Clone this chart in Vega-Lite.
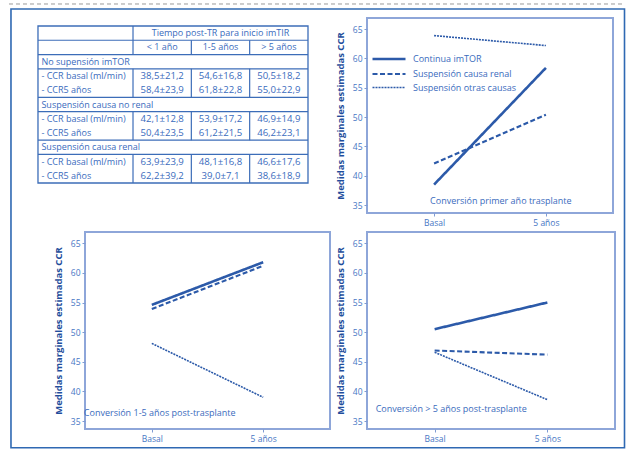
{
  "$schema": "https://vega.github.io/schema/vega-lite/v6.json",
  "background": "white",
  "padding": {"left": 8, "top": 3, "right": 5, "bottom": 3},
  "autosize": {"type": "pad"},
  "config": {
    "font": "Open Sans",
    "view": {"stroke": "#8ea6d9", "strokeWidth": 2},
    "axis": {"domain": false, "grid": false, "labelColor": "#4676c4", "labelFontSize": 8.5, "tickColor": "#7f9bd3", "tickSize": 3, "labelPadding": 2, "titleColor": "#1f4e9c", "titleFontSize": 9.5, "titleFontWeight": "bold", "titlePadding": 7},
    "axisX": {"labelPadding": 2, "labelAngle": 0}
  },
  "datasets": {
    "lineas": [
      {"panel": "p1", "serie": "Continua imTOR", "tiempo": "Basal", "ccr": 38.5},
      {"panel": "p1", "serie": "Continua imTOR", "tiempo": "5 años", "ccr": 58.4},
      {"panel": "p1", "serie": "Suspensión causa renal", "tiempo": "Basal", "ccr": 42.1},
      {"panel": "p1", "serie": "Suspensión causa renal", "tiempo": "5 años", "ccr": 50.4},
      {"panel": "p1", "serie": "Suspensión otras causas", "tiempo": "Basal", "ccr": 63.9},
      {"panel": "p1", "serie": "Suspensión otras causas", "tiempo": "5 años", "ccr": 62.2},
      {"panel": "p2", "serie": "Continua imTOR", "tiempo": "Basal", "ccr": 54.6},
      {"panel": "p2", "serie": "Continua imTOR", "tiempo": "5 años", "ccr": 61.8},
      {"panel": "p2", "serie": "Suspensión causa renal", "tiempo": "Basal", "ccr": 53.9},
      {"panel": "p2", "serie": "Suspensión causa renal", "tiempo": "5 años", "ccr": 61.2},
      {"panel": "p2", "serie": "Suspensión otras causas", "tiempo": "Basal", "ccr": 48.1},
      {"panel": "p2", "serie": "Suspensión otras causas", "tiempo": "5 años", "ccr": 39.0},
      {"panel": "p3", "serie": "Continua imTOR", "tiempo": "Basal", "ccr": 50.5},
      {"panel": "p3", "serie": "Continua imTOR", "tiempo": "5 años", "ccr": 55.0},
      {"panel": "p3", "serie": "Suspensión causa renal", "tiempo": "Basal", "ccr": 46.9},
      {"panel": "p3", "serie": "Suspensión causa renal", "tiempo": "5 años", "ccr": 46.2},
      {"panel": "p3", "serie": "Suspensión otras causas", "tiempo": "Basal", "ccr": 46.6},
      {"panel": "p3", "serie": "Suspensión otras causas", "tiempo": "5 años", "ccr": 38.6}
    ],
    "notas": [
      {"panel": "p1", "nota": "Conversión primer año trasplante"},
      {"panel": "p2", "nota": "Conversión 1-5 años post-trasplante"},
      {"panel": "p3", "nota": "Conversión > 5 años post-trasplante"}
    ],
    "tabla": [
      {"fila": 0, "col": 2, "texto": "Tiempo post-TR para inicio imTIR"},
      {"fila": 1, "col": 1, "texto": "< 1 año"},
      {"fila": 1, "col": 2, "texto": "1-5 años"},
      {"fila": 1, "col": 3, "texto": "> 5 años"},
      {"fila": 2, "col": 0, "texto": "No supensión imTOR"},
      {"fila": 3, "col": 0, "texto": "- CCR basal (ml/min)"},
      {"fila": 3, "col": 1, "texto": "38,5±21,2"},
      {"fila": 3, "col": 2, "texto": "54,6±16,8"},
      {"fila": 3, "col": 3, "texto": "50,5±18,2"},
      {"fila": 4, "col": 0, "texto": "- CCR5 años"},
      {"fila": 4, "col": 1, "texto": "58,4±23,9"},
      {"fila": 4, "col": 2, "texto": "61,8±22,8"},
      {"fila": 4, "col": 3, "texto": "55,0±22,9"},
      {"fila": 5, "col": 0, "texto": "Suspensión causa no renal"},
      {"fila": 6, "col": 0, "texto": "- CCR basal (ml/min)"},
      {"fila": 6, "col": 1, "texto": "42,1±12,8"},
      {"fila": 6, "col": 2, "texto": "53,9±17,2"},
      {"fila": 6, "col": 3, "texto": "46,9±14,9"},
      {"fila": 7, "col": 0, "texto": "- CCR5 años"},
      {"fila": 7, "col": 1, "texto": "50,4±23,5"},
      {"fila": 7, "col": 2, "texto": "61,2±21,5"},
      {"fila": 7, "col": 3, "texto": "46,2±23,1"},
      {"fila": 8, "col": 0, "texto": "Suspensión causa renal"},
      {"fila": 9, "col": 0, "texto": "- CCR basal (ml/min)"},
      {"fila": 9, "col": 1, "texto": "63,9±23,9"},
      {"fila": 9, "col": 2, "texto": "48,1±16,8"},
      {"fila": 9, "col": 3, "texto": "46,6±17,6"},
      {"fila": 10, "col": 0, "texto": "- CCR5 años"},
      {"fila": 10, "col": 1, "texto": "62,2±39,2"},
      {"fila": 10, "col": 2, "texto": "39,0±7,1"},
      {"fila": 10, "col": 3, "texto": "38,6±18,9"}
    ]
  },
  "columns": 2,
  "spacing": {"row": 19, "column": 37},
  "bounds": "flush",
  "align": "each",
  "resolve": {"scale": {"strokeDash": "independent", "strokeWidth": "independent"}},
  "concat": [
    {
      "width": 223,
      "height": 195,
      "view": {"stroke": null},
      "layer": [
        {"data": {"values": [{}]}, "mark": {"type": "rule", "color": "#9a9a9a", "strokeWidth": 1, "strokeDash": [4, 3], "clip": false},
         "encoding": {"x": {"datum": -1.626, "type": "quantitative", "scale": {"domain": [-0.323, 3.5], "nice": false, "zero": false}, "axis": null}, "x2": {"datum": 8.926}, "y": {"datum": -2.041, "type": "quantitative", "scale": {"domain": [-1.06, 12.6], "reverse": true, "nice": false, "zero": false}, "axis": null}}},
        {"data": {"values": [{}]}, "mark": {"type": "rect", "filled": false, "color": "#2f69b3", "strokeWidth": 1.6, "clip": false},
         "encoding": {"x": {"datum": -1.592, "type": "quantitative", "scale": {"domain": [-0.323, 3.5], "nice": false, "zero": false}, "axis": null}, "x2": {"datum": 8.926}, "y": {"datum": -1.691, "type": "quantitative", "scale": {"domain": [-1.06, 12.6], "reverse": true, "nice": false, "zero": false}, "axis": null}, "y2": {"datum": 29.04}}},
        {"data": {"values": [{}]}, "mark": {"type": "rect", "filled": false, "color": "#3c6db8", "strokeWidth": 1.3, "clip": false},
         "encoding": {"x": {"datum": -1.129, "type": "quantitative", "scale": {"domain": [-0.323, 3.5], "nice": false, "zero": false}, "axis": null}, "x2": {"datum": 3.5}, "y": {"datum": -0.5, "type": "quantitative", "scale": {"domain": [-1.06, 12.6], "reverse": true, "nice": false, "zero": false}, "axis": null}, "y2": {"datum": 10.5}}},
        {"data": {"values": [{}]}, "mark": {"type": "rule", "color": "#3c6db8", "strokeWidth": 1.2, "clip": false},
         "encoding": {"x": {"datum": -1.129, "type": "quantitative", "scale": {"domain": [-0.323, 3.5], "nice": false, "zero": false}, "axis": null}, "x2": {"datum": 3.5}, "y": {"datum": 0.5, "type": "quantitative", "scale": {"domain": [-1.06, 12.6], "reverse": true, "nice": false, "zero": false}, "axis": null}}},
        {"data": {"values": [{}]}, "mark": {"type": "rule", "color": "#3c6db8", "strokeWidth": 1.2, "clip": false},
         "encoding": {"x": {"datum": -1.129, "type": "quantitative", "scale": {"domain": [-0.323, 3.5], "nice": false, "zero": false}, "axis": null}, "x2": {"datum": 3.5}, "y": {"datum": 1.5, "type": "quantitative", "scale": {"domain": [-1.06, 12.6], "reverse": true, "nice": false, "zero": false}, "axis": null}}},
        {"data": {"values": [{}]}, "mark": {"type": "rule", "color": "#3c6db8", "strokeWidth": 1.2, "clip": false},
         "encoding": {"x": {"datum": -1.129, "type": "quantitative", "scale": {"domain": [-0.323, 3.5], "nice": false, "zero": false}, "axis": null}, "x2": {"datum": 3.5}, "y": {"datum": 2.5, "type": "quantitative", "scale": {"domain": [-1.06, 12.6], "reverse": true, "nice": false, "zero": false}, "axis": null}}},
        {"data": {"values": [{}]}, "mark": {"type": "rule", "color": "#3c6db8", "strokeWidth": 1.2, "clip": false},
         "encoding": {"x": {"datum": -1.129, "type": "quantitative", "scale": {"domain": [-0.323, 3.5], "nice": false, "zero": false}, "axis": null}, "x2": {"datum": 3.5}, "y": {"datum": 4.5, "type": "quantitative", "scale": {"domain": [-1.06, 12.6], "reverse": true, "nice": false, "zero": false}, "axis": null}}},
        {"data": {"values": [{}]}, "mark": {"type": "rule", "color": "#3c6db8", "strokeWidth": 1.2, "clip": false},
         "encoding": {"x": {"datum": -1.129, "type": "quantitative", "scale": {"domain": [-0.323, 3.5], "nice": false, "zero": false}, "axis": null}, "x2": {"datum": 3.5}, "y": {"datum": 5.5, "type": "quantitative", "scale": {"domain": [-1.06, 12.6], "reverse": true, "nice": false, "zero": false}, "axis": null}}},
        {"data": {"values": [{}]}, "mark": {"type": "rule", "color": "#3c6db8", "strokeWidth": 1.2, "clip": false},
         "encoding": {"x": {"datum": -1.129, "type": "quantitative", "scale": {"domain": [-0.323, 3.5], "nice": false, "zero": false}, "axis": null}, "x2": {"datum": 3.5}, "y": {"datum": 7.5, "type": "quantitative", "scale": {"domain": [-1.06, 12.6], "reverse": true, "nice": false, "zero": false}, "axis": null}}},
        {"data": {"values": [{}]}, "mark": {"type": "rule", "color": "#3c6db8", "strokeWidth": 1.2, "clip": false},
         "encoding": {"x": {"datum": -1.129, "type": "quantitative", "scale": {"domain": [-0.323, 3.5], "nice": false, "zero": false}, "axis": null}, "x2": {"datum": 3.5}, "y": {"datum": 8.5, "type": "quantitative", "scale": {"domain": [-1.06, 12.6], "reverse": true, "nice": false, "zero": false}, "axis": null}}},
        {"data": {"values": [{}]}, "mark": {"type": "rule", "color": "#3c6db8", "strokeWidth": 1.2, "clip": false},
         "encoding": {"x": {"datum": 0.5, "type": "quantitative", "scale": {"domain": [-0.323, 3.5], "nice": false, "zero": false}, "axis": null}, "y": {"datum": -0.5, "type": "quantitative", "scale": {"domain": [-1.06, 12.6], "reverse": true, "nice": false, "zero": false}, "axis": null}, "y2": {"datum": 1.5}}},
        {"data": {"values": [{}]}, "mark": {"type": "rule", "color": "#3c6db8", "strokeWidth": 1.2, "clip": false},
         "encoding": {"x": {"datum": 0.5, "type": "quantitative", "scale": {"domain": [-0.323, 3.5], "nice": false, "zero": false}, "axis": null}, "y": {"datum": 2.5, "type": "quantitative", "scale": {"domain": [-1.06, 12.6], "reverse": true, "nice": false, "zero": false}, "axis": null}, "y2": {"datum": 4.5}}},
        {"data": {"values": [{}]}, "mark": {"type": "rule", "color": "#3c6db8", "strokeWidth": 1.2, "clip": false},
         "encoding": {"x": {"datum": 0.5, "type": "quantitative", "scale": {"domain": [-0.323, 3.5], "nice": false, "zero": false}, "axis": null}, "y": {"datum": 5.5, "type": "quantitative", "scale": {"domain": [-1.06, 12.6], "reverse": true, "nice": false, "zero": false}, "axis": null}, "y2": {"datum": 7.5}}},
        {"data": {"values": [{}]}, "mark": {"type": "rule", "color": "#3c6db8", "strokeWidth": 1.2, "clip": false},
         "encoding": {"x": {"datum": 0.5, "type": "quantitative", "scale": {"domain": [-0.323, 3.5], "nice": false, "zero": false}, "axis": null}, "y": {"datum": 8.5, "type": "quantitative", "scale": {"domain": [-1.06, 12.6], "reverse": true, "nice": false, "zero": false}, "axis": null}, "y2": {"datum": 10.5}}},
        {"data": {"values": [{}]}, "mark": {"type": "rule", "color": "#3c6db8", "strokeWidth": 1.2, "clip": false},
         "encoding": {"x": {"datum": 1.5, "type": "quantitative", "scale": {"domain": [-0.323, 3.5], "nice": false, "zero": false}, "axis": null}, "y": {"datum": 0.5, "type": "quantitative", "scale": {"domain": [-1.06, 12.6], "reverse": true, "nice": false, "zero": false}, "axis": null}, "y2": {"datum": 1.5}}},
        {"data": {"values": [{}]}, "mark": {"type": "rule", "color": "#3c6db8", "strokeWidth": 1.2, "clip": false},
         "encoding": {"x": {"datum": 1.5, "type": "quantitative", "scale": {"domain": [-0.323, 3.5], "nice": false, "zero": false}, "axis": null}, "y": {"datum": 2.5, "type": "quantitative", "scale": {"domain": [-1.06, 12.6], "reverse": true, "nice": false, "zero": false}, "axis": null}, "y2": {"datum": 4.5}}},
        {"data": {"values": [{}]}, "mark": {"type": "rule", "color": "#3c6db8", "strokeWidth": 1.2, "clip": false},
         "encoding": {"x": {"datum": 1.5, "type": "quantitative", "scale": {"domain": [-0.323, 3.5], "nice": false, "zero": false}, "axis": null}, "y": {"datum": 5.5, "type": "quantitative", "scale": {"domain": [-1.06, 12.6], "reverse": true, "nice": false, "zero": false}, "axis": null}, "y2": {"datum": 7.5}}},
        {"data": {"values": [{}]}, "mark": {"type": "rule", "color": "#3c6db8", "strokeWidth": 1.2, "clip": false},
         "encoding": {"x": {"datum": 1.5, "type": "quantitative", "scale": {"domain": [-0.323, 3.5], "nice": false, "zero": false}, "axis": null}, "y": {"datum": 8.5, "type": "quantitative", "scale": {"domain": [-1.06, 12.6], "reverse": true, "nice": false, "zero": false}, "axis": null}, "y2": {"datum": 10.5}}},
        {"data": {"values": [{}]}, "mark": {"type": "rule", "color": "#3c6db8", "strokeWidth": 1.2, "clip": false},
         "encoding": {"x": {"datum": 2.5, "type": "quantitative", "scale": {"domain": [-0.323, 3.5], "nice": false, "zero": false}, "axis": null}, "y": {"datum": 0.5, "type": "quantitative", "scale": {"domain": [-1.06, 12.6], "reverse": true, "nice": false, "zero": false}, "axis": null}, "y2": {"datum": 1.5}}},
        {"data": {"values": [{}]}, "mark": {"type": "rule", "color": "#3c6db8", "strokeWidth": 1.2, "clip": false},
         "encoding": {"x": {"datum": 2.5, "type": "quantitative", "scale": {"domain": [-0.323, 3.5], "nice": false, "zero": false}, "axis": null}, "y": {"datum": 2.5, "type": "quantitative", "scale": {"domain": [-1.06, 12.6], "reverse": true, "nice": false, "zero": false}, "axis": null}, "y2": {"datum": 4.5}}},
        {"data": {"values": [{}]}, "mark": {"type": "rule", "color": "#3c6db8", "strokeWidth": 1.2, "clip": false},
         "encoding": {"x": {"datum": 2.5, "type": "quantitative", "scale": {"domain": [-0.323, 3.5], "nice": false, "zero": false}, "axis": null}, "y": {"datum": 5.5, "type": "quantitative", "scale": {"domain": [-1.06, 12.6], "reverse": true, "nice": false, "zero": false}, "axis": null}, "y2": {"datum": 7.5}}},
        {"data": {"values": [{}]}, "mark": {"type": "rule", "color": "#3c6db8", "strokeWidth": 1.2, "clip": false},
         "encoding": {"x": {"datum": 2.5, "type": "quantitative", "scale": {"domain": [-0.323, 3.5], "nice": false, "zero": false}, "axis": null}, "y": {"datum": 8.5, "type": "quantitative", "scale": {"domain": [-1.06, 12.6], "reverse": true, "nice": false, "zero": false}, "axis": null}, "y2": {"datum": 10.5}}},
        {"data": {"name": "tabla"}, "transform": [{"filter": "datum.col === 0"}],
         "mark": {"type": "text", "align": "left", "baseline": "middle", "fontSize": 9, "color": "#3a6bbd", "clip": false},
         "encoding": {"x": {"datum": -1.07, "type": "quantitative", "scale": {"domain": [-0.323, 3.5], "nice": false, "zero": false}, "axis": null}, "y": {"field": "fila", "type": "quantitative", "scale": {"domain": [-1.06, 12.6], "reverse": true, "nice": false, "zero": false}, "axis": null}, "text": {"field": "texto"}}},
        {"data": {"name": "tabla"}, "transform": [{"filter": "datum.col > 0 && datum.fila <= 1"}],
         "mark": {"type": "text", "align": "center", "baseline": "middle", "fontSize": 9, "color": "#3a6bbd", "clip": false},
         "encoding": {"x": {"field": "col", "type": "quantitative", "scale": {"domain": [-0.323, 3.5], "nice": false, "zero": false}, "axis": null}, "y": {"field": "fila", "type": "quantitative", "scale": {"domain": [-1.06, 12.6], "reverse": true, "nice": false, "zero": false}, "axis": null}, "text": {"field": "texto"}}},
        {"data": {"name": "tabla"}, "transform": [{"filter": "datum.col > 0 && datum.fila >= 2"}],
         "mark": {"type": "text", "align": "center", "baseline": "middle", "fontSize": 9.6, "color": "#3a6bbd", "clip": false},
         "encoding": {"x": {"field": "col", "type": "quantitative", "scale": {"domain": [-0.323, 3.5], "nice": false, "zero": false}, "axis": null}, "y": {"field": "fila", "type": "quantitative", "scale": {"domain": [-1.06, 12.6], "reverse": true, "nice": false, "zero": false}, "axis": null}, "text": {"field": "texto"}}}
      ]
    },
    {
      "width": 246,
      "height": 195,
      "layer": [
        {"data": {"name": "lineas"}, "transform": [{"filter": "datum.panel === 'p1'"}],
         "mark": {"type": "line", "color": "#2c5aa9", "clip": false},
         "encoding": {
           "x": {"field": "tiempo", "type": "ordinal", "scale": {"type": "point", "domain": ["Basal", "5 años"], "padding": 0.6}, "axis": {"title": null, "labelAngle": 0}},
           "y": {"field": "ccr", "type": "quantitative", "scale": {"domain": [33.65, 66.9], "nice": false, "zero": false}, "axis": {"title": "Medidas marginales estimadas CCR", "values": [35, 40, 45, 50, 55, 60, 65]}},
           "strokeDash": {"field": "serie", "type": "nominal", "scale": {"domain": ["Continua imTOR", "Suspensión causa renal", "Suspensión otras causas"], "range": [[1, 0], [5, 2.5], [2, 1]]},
             "legend": {"orient": "none", "legendX": 15, "legendY": 34, "title": null, "padding": 0, "symbolType": "M-3,0H3", "symbolSize": 121, "symbolFillColor": "transparent", "symbolStrokeColor": "#2c5aa9", "labelFont": "Open Sans", "labelFontSize": 9, "labelColor": "#3a6bbd", "labelOffset": 17, "rowPadding": 2}},
           "strokeWidth": {"field": "serie", "type": "ordinal", "scale": {"type": "point", "domain": ["Continua imTOR", "Suspensión causa renal", "Suspensión otras causas"], "range": [2.6, 1.6], "padding": 0},
             "legend": {"orient": "none", "legendX": 15, "legendY": 34, "title": null, "padding": 0, "symbolType": "M-3,0H3", "symbolSize": 121, "symbolFillColor": "transparent", "symbolStrokeColor": "#2c5aa9", "labelFont": "Open Sans", "labelFontSize": 9, "labelColor": "#3a6bbd", "labelOffset": 17, "rowPadding": 2}}
         }},
        {"data": {"name": "notas"}, "transform": [{"filter": "datum.panel === 'p1'"}],
         "mark": {"type": "text", "align": "left", "baseline": "middle", "dx": -4, "fontSize": 9, "color": "#3a6bbd"},
         "encoding": {
           "x": {"datum": "Basal", "type": "ordinal", "scale": {"type": "point", "domain": ["Basal", "5 años"], "padding": 0.6}, "axis": {"title": null, "labelAngle": 0}},
           "y": {"datum": 35.7, "type": "quantitative", "scale": {"domain": [33.65, 66.9], "nice": false, "zero": false}, "axis": {"title": "Medidas marginales estimadas CCR", "values": [35, 40, 45, 50, 55, 60, 65]}},
           "text": {"field": "nota"}
         }}
      ]
    },
    {
      "width": 245,
      "height": 197,
      "layer": [
        {"data": {"name": "lineas"}, "transform": [{"filter": "datum.panel === 'p2'"}],
         "mark": {"type": "line", "color": "#2c5aa9", "clip": false},
         "encoding": {
           "x": {"field": "tiempo", "type": "ordinal", "scale": {"type": "point", "domain": ["Basal", "5 años"], "padding": 0.6}, "axis": {"title": null, "labelAngle": 0}},
           "y": {"field": "ccr", "type": "quantitative", "scale": {"domain": [33.65, 66.9], "nice": false, "zero": false}, "axis": {"title": "Medidas marginales estimadas CCR", "values": [35, 40, 45, 50, 55, 60, 65]}},
           "strokeDash": {"field": "serie", "type": "nominal", "scale": {"domain": ["Continua imTOR", "Suspensión causa renal", "Suspensión otras causas"], "range": [[1, 0], [5, 2.5], [2, 1]]}, "legend": null},
           "strokeWidth": {"field": "serie", "type": "ordinal", "scale": {"type": "point", "domain": ["Continua imTOR", "Suspensión causa renal", "Suspensión otras causas"], "range": [2.6, 1.6], "padding": 0}, "legend": null}
         }},
        {"data": {"name": "notas"}, "transform": [{"filter": "datum.panel === 'p2'"}],
         "mark": {"type": "text", "align": "left", "baseline": "middle", "dx": -68, "fontSize": 9, "color": "#3a6bbd"},
         "encoding": {
           "x": {"datum": "Basal", "type": "ordinal", "scale": {"type": "point", "domain": ["Basal", "5 años"], "padding": 0.6}, "axis": {"title": null, "labelAngle": 0}},
           "y": {"datum": 36.4, "type": "quantitative", "scale": {"domain": [33.65, 66.9], "nice": false, "zero": false}, "axis": {"title": "Medidas marginales estimadas CCR", "values": [35, 40, 45, 50, 55, 60, 65]}},
           "text": {"field": "nota"}
         }}
      ]
    },
    {
      "width": 248,
      "height": 197,
      "layer": [
        {"data": {"name": "lineas"}, "transform": [{"filter": "datum.panel === 'p3'"}],
         "mark": {"type": "line", "color": "#2c5aa9", "clip": false},
         "encoding": {
           "x": {"field": "tiempo", "type": "ordinal", "scale": {"type": "point", "domain": ["Basal", "5 años"], "padding": 0.6}, "axis": {"title": null, "labelAngle": 0}},
           "y": {"field": "ccr", "type": "quantitative", "scale": {"domain": [33.65, 66.9], "nice": false, "zero": false}, "axis": {"title": "Medidas marginales estimadas CCR", "values": [35, 40, 45, 50, 55, 60, 65]}},
           "strokeDash": {"field": "serie", "type": "nominal", "scale": {"domain": ["Continua imTOR", "Suspensión causa renal", "Suspensión otras causas"], "range": [[1, 0], [5, 2.5], [2, 1]]}, "legend": null},
           "strokeWidth": {"field": "serie", "type": "ordinal", "scale": {"type": "point", "domain": ["Continua imTOR", "Suspensión causa renal", "Suspensión otras causas"], "range": [2.6, 1.6], "padding": 0}, "legend": null}
         }},
        {"data": {"name": "notas"}, "transform": [{"filter": "datum.panel === 'p3'"}],
         "mark": {"type": "text", "align": "left", "baseline": "middle", "dx": -59, "fontSize": 9, "color": "#3a6bbd"},
         "encoding": {
           "x": {"datum": "Basal", "type": "ordinal", "scale": {"type": "point", "domain": ["Basal", "5 años"], "padding": 0.6}, "axis": {"title": null, "labelAngle": 0}},
           "y": {"datum": 37.0, "type": "quantitative", "scale": {"domain": [33.65, 66.9], "nice": false, "zero": false}, "axis": {"title": "Medidas marginales estimadas CCR", "values": [35, 40, 45, 50, 55, 60, 65]}},
           "text": {"field": "nota"}
         }}
      ]
    }
  ]
}
